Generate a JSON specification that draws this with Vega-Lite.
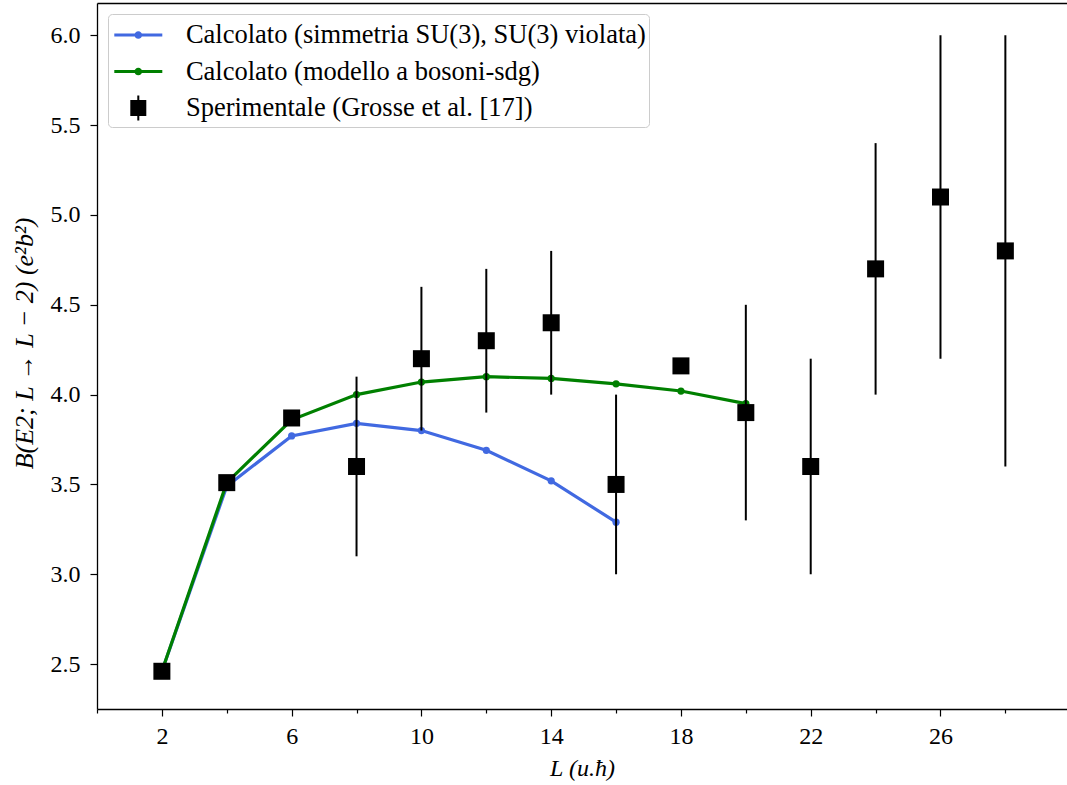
{
  "$schema": "https://vega.github.io/schema/vega-lite/v6.json",
  "width": 970,
  "height": 706,
  "autosize": {"type": "none"},
  "padding": {"left": 97, "top": 3, "right": 0, "bottom": 76},
  "background": "white",
  "config": {
    "view": {"stroke": null},
    "font": "Liberation Serif",
    "axis": {
      "labelFont": "Liberation Serif", "labelFontSize": 24, "labelColor": "black",
      "titleFont": "Liberation Serif", "titleFontSize": 24, "titleFontWeight": "normal", "titleColor": "black",
      "domainColor": "black", "tickColor": "black", "domainWidth": 1.3, "tickWidth": 1.2, "grid": false
    },
    "legend": {"labelFont": "Liberation Serif", "labelFontSize": 26.5, "labelColor": "black"}
  },
  "datasets": {
    "calc": [
      {"series": "Calcolato (simmetria SU(3), SU(3) violata)", "L": 2, "B": 2.46},
      {"series": "Calcolato (simmetria SU(3), SU(3) violata)", "L": 4, "B": 3.49},
      {"series": "Calcolato (simmetria SU(3), SU(3) violata)", "L": 6, "B": 3.77},
      {"series": "Calcolato (simmetria SU(3), SU(3) violata)", "L": 8, "B": 3.84},
      {"series": "Calcolato (simmetria SU(3), SU(3) violata)", "L": 10, "B": 3.80},
      {"series": "Calcolato (simmetria SU(3), SU(3) violata)", "L": 12, "B": 3.69},
      {"series": "Calcolato (simmetria SU(3), SU(3) violata)", "L": 14, "B": 3.52},
      {"series": "Calcolato (simmetria SU(3), SU(3) violata)", "L": 16, "B": 3.29},
      {"series": "Calcolato (modello a bosoni-sdg)", "L": 2, "B": 2.46},
      {"series": "Calcolato (modello a bosoni-sdg)", "L": 4, "B": 3.51},
      {"series": "Calcolato (modello a bosoni-sdg)", "L": 6, "B": 3.86},
      {"series": "Calcolato (modello a bosoni-sdg)", "L": 8, "B": 4.00},
      {"series": "Calcolato (modello a bosoni-sdg)", "L": 10, "B": 4.07},
      {"series": "Calcolato (modello a bosoni-sdg)", "L": 12, "B": 4.10},
      {"series": "Calcolato (modello a bosoni-sdg)", "L": 14, "B": 4.09},
      {"series": "Calcolato (modello a bosoni-sdg)", "L": 16, "B": 4.06},
      {"series": "Calcolato (modello a bosoni-sdg)", "L": 18, "B": 4.02},
      {"series": "Calcolato (modello a bosoni-sdg)", "L": 20, "B": 3.95}
    ],
    "exp": [
      {"L": 2, "B": 2.46},
      {"L": 4, "B": 3.51},
      {"L": 6, "B": 3.87},
      {"L": 8, "B": 3.6, "lo": 3.1, "hi": 4.1},
      {"L": 10, "B": 4.2, "lo": 3.8, "hi": 4.6},
      {"L": 12, "B": 4.3, "lo": 3.9, "hi": 4.7},
      {"L": 14, "B": 4.4, "lo": 4.0, "hi": 4.8},
      {"L": 16, "B": 3.5, "lo": 3.0, "hi": 4.0},
      {"L": 18, "B": 4.16},
      {"L": 20, "B": 3.9, "lo": 3.3, "hi": 4.5},
      {"L": 22, "B": 3.6, "lo": 3.0, "hi": 4.2},
      {"L": 24, "B": 4.7, "lo": 4.0, "hi": 5.4},
      {"L": 26, "B": 5.1, "lo": 4.2, "hi": 6.0},
      {"L": 28, "B": 4.8, "lo": 3.6, "hi": 6.0}
    ]
  },
  "layer": [
    {
      "data": {"name": "calc"},
      "mark": {"type": "line", "strokeWidth": 3.2},
      "encoding": {
        "x": {"field": "L", "type": "quantitative",
          "scale": {"domain": [0, 29.9], "nice": false, "zero": false},
          "axis": {"orient": "bottom", "values": [0, 2, 4, 6, 8, 10, 12, 14, 16, 18, 20, 22, 24, 26, 28],
            "tickSize": {"condition": {"test": "datum.value % 4 === 0", "value": 4}, "value": 7},
            "labelExpr": "datum.value % 4 === 2 ? datum.label : ''",
            "labelPadding": 8, "domain": true,
            "title": "L (u.ħ)", "titleFontStyle": "italic", "titlePadding": 8}},
        "y": {"field": "B", "type": "quantitative",
          "scale": {"domain": [2.25, 6.18], "nice": false, "zero": false},
          "axis": {"values": [2.5, 3.0, 3.5, 4.0, 4.5, 5.0, 5.5, 6.0], "format": ".1f", "tickSize": 7, "labelPadding": 10,
            "title": "B(E2; L → L − 2) (e²b²)", "titleFontStyle": "italic", "titleFontSize": 26, "titlePadding": 13, "titleY": 340}},
        "color": {"field": "series", "type": "nominal",
          "scale": {"domain": ["Calcolato (simmetria SU(3), SU(3) violata)", "Calcolato (modello a bosoni-sdg)", "Sperimentale (Grosse et al. [17])"],
                    "range": ["#4169e1", "#008000", "#000000"]},
          "legend": {
            "orient": "none", "legendX": 11, "legendY": 11, "title": null,
            "padding": 3, "rowPadding": 2.5, "symbolOffset": 9.3, "labelOffset": 29.6,
            "labelFont": "Liberation Serif", "labelFontSize": 26.5, "labelColor": "black", "labelLimit": 0,
            "strokeColor": "#cccccc", "fillColor": "rgba(255,255,255,0.8)", "cornerRadius": 4,
            "symbolSize": 1253,
            "encode": {
              "symbols": {"update": {
                "shape": {"signal": "datum.value === 'Sperimentale (Grosse et al. [17])' ? 'M0,-0.868M0,0.868M-0.452,-0.452H0.452V0.452H-0.452ZM-0.057,-0.705H0.057V0.705H-0.057Z' : 'M0,-0.868M0,0.868M-1.356,-0.088H1.356V0.088H-1.356ZM-0.217,0A0.217,0.217 0 1,1 0.217,0A0.217,0.217 0 1,1 -0.217,0Z'"},
                "fill": {"scale": "color", "field": "value"},
                "stroke": {"value": "transparent"},
                "strokeWidth": {"value": 0},
                "opacity": {"value": 1}
              }},
              "labels": {"update": {
                "font": {"value": "Liberation Serif"},
                "fontSize": {"value": 26.5},
                "fill": {"value": "black"}
              }}
            }
          }}
      }
    },
    {
      "data": {"name": "calc"},
      "mark": {"type": "circle", "size": 52, "opacity": 1},
      "encoding": {
        "x": {"field": "L", "type": "quantitative", "axis": null},
        "y": {"field": "B", "type": "quantitative",
          "axis": {"values": [2.5, 3.0, 3.5, 4.0, 4.5, 5.0, 5.5, 6.0], "format": ".1f", "tickSize": 7, "labelPadding": 10,
            "title": "B(E2; L → L − 2) (e²b²)", "titleFontStyle": "italic", "titleFontSize": 26, "titlePadding": 13, "titleY": 340}},
        "color": {"field": "series", "type": "nominal"}
      }
    },
    {
      "data": {"name": "exp"},
      "transform": [{"filter": "isValid(datum.lo)"}],
      "mark": {"type": "rule", "strokeWidth": 2, "color": "black"},
      "encoding": {
        "x": {"field": "L", "type": "quantitative",
          "axis": {"orient": "top", "ticks": false, "labels": false, "domain": true, "title": null}},
        "y": {"field": "lo", "type": "quantitative",
          "axis": {"values": [2.5, 3.0, 3.5, 4.0, 4.5, 5.0, 5.5, 6.0], "format": ".1f", "tickSize": 7, "labelPadding": 10,
            "title": "B(E2; L → L − 2) (e²b²)", "titleFontStyle": "italic", "titleFontSize": 26, "titlePadding": 13, "titleY": 340}},
        "y2": {"field": "hi"}
      }
    },
    {
      "data": {"name": "exp"},
      "mark": {"type": "square", "size": 289, "color": "black", "opacity": 1, "filled": true},
      "encoding": {
        "x": {"field": "L", "type": "quantitative", "axis": null},
        "y": {"field": "B", "type": "quantitative",
          "axis": {"values": [2.5, 3.0, 3.5, 4.0, 4.5, 5.0, 5.5, 6.0], "format": ".1f", "tickSize": 7, "labelPadding": 10,
            "title": "B(E2; L → L − 2) (e²b²)", "titleFontStyle": "italic", "titleFontSize": 26, "titlePadding": 13, "titleY": 340}}
      }
    }
  ],
  "resolve": {"axis": {"x": "independent"}}
}
